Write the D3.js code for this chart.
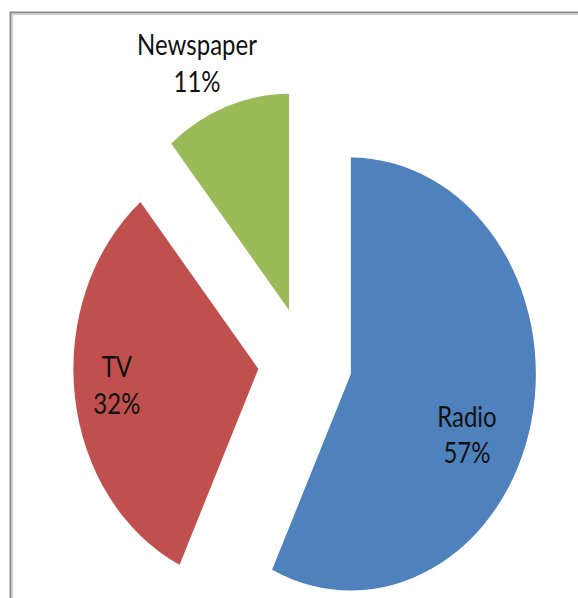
<!DOCTYPE html>
<html>
<head>
<meta charset="utf-8">
<script src="https://cdn.jsdelivr.net/npm/d3@7"></script>
<style>
  html, body { margin: 0; padding: 0; background: #fff; }
  svg { display: block; }
</style>
</head>
<body>
<svg id="chart" width="578" height="598"></svg>
<script>
// ---- data ----
const categories = ["Radio", "TV", "Newspaper"];
const values = [57, 32, 11];
const percentLabels = ["57%", "32%", "11%"];

// ---- style / layout ----
const colors = ["#4F81BD", "#C0504D", "#9BBB59"];
const W = 578, H = 598;
const cx = 305, cy = 362;      // pie centre (before explosion)
const r = 185;                 // horizontal radius
const k = 1.17;                // vertical stretch of the picture
const explode = 47;            // explosion distance
// label placement relative to each exploded slice: angle offset (deg) from mid-angle, distance as fraction of r
const labelAngleOffset = [15, -2, -4.7];
const labelDist = [0.708, 0.775, 1.2];
const lineGap = 15.8;          // half distance between the two label baselines (unstretched)

const svg = d3.select("#chart");

// frame (chart area border, extends past window right/bottom)
svg.append("rect").attr("x", 10.5).attr("y", 12.5).attr("width", 600).attr("height", 620)
  .attr("fill", "none").attr("stroke", "#8a8a8a").attr("stroke-width", 2);
svg.append("rect").attr("x", 12.5).attr("y", 14.5).attr("width", 600).attr("height", 620)
  .attr("fill", "none").attr("stroke", "#d0d0d0").attr("stroke-width", 1.2);

const g = svg.append("g").attr("transform", `translate(${cx},${cy}) scale(1,${k})`);

const pie = d3.pie().sort(null).value(d => d)(values);
const arc = d3.arc().innerRadius(0).outerRadius(r);

const slices = g.selectAll("g.slice").data(pie).join("g")
  .attr("class", "slice")
  .attr("transform", d => {
    const a = (d.startAngle + d.endAngle) / 2;
    return `translate(${Math.sin(a) * explode},${-Math.cos(a) * explode})`;
  });

slices.append("path")
  .attr("d", arc)
  .attr("fill", (d, i) => colors[i]);

const labels = slices.append("text")
  .attr("text-anchor", "middle")
  .attr("font-family", "Lato, 'Open Sans', sans-serif")
  .attr("font-size", 24)
  .attr("fill", "#111")
  .attr("transform", (d, i) => {
    const a = (d.startAngle + d.endAngle) / 2 + labelAngleOffset[i] * Math.PI / 180;
    const dist = labelDist[i] * r;
    return `translate(${Math.sin(a) * dist},${-Math.cos(a) * dist})`;
  });

labels.append("tspan").attr("x", 0).attr("y", -lineGap).text((d, i) => categories[i]);
labels.append("tspan").attr("x", 0).attr("y", lineGap).text((d, i) => percentLabels[i]);
</script>
</body>
</html>
